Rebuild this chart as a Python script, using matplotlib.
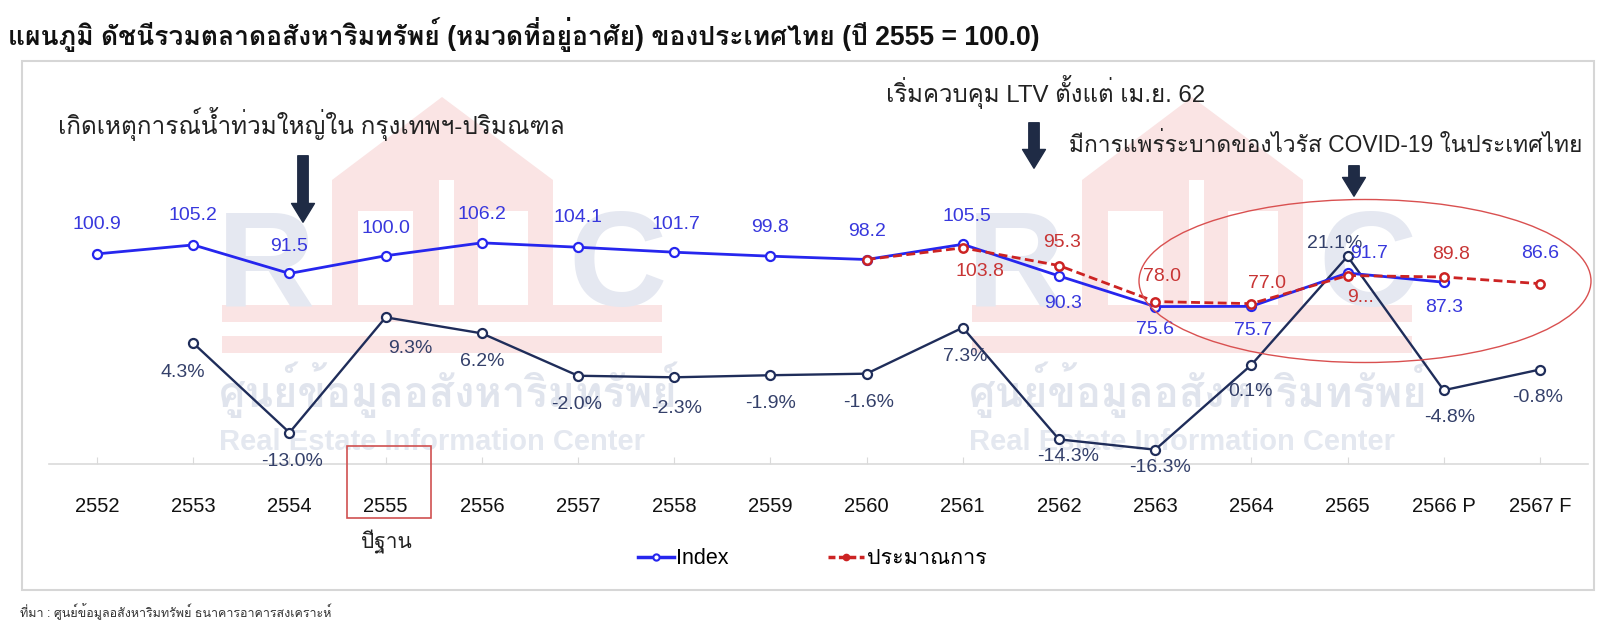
import matplotlib
matplotlib.use('Agg')
import matplotlib.pyplot as plt
import numpy as np
from matplotlib import font_manager
from matplotlib.ft2font import FT2Font
from matplotlib.patches import Rectangle, Ellipse, Polygon, FancyArrowPatch
from matplotlib.lines import Line2D

# ---- data ----
years = ['2552', '2553', '2554', '2555', '2556', '2557', '2558', '2559',
         '2560', '2561', '2562', '2563', '2564', '2565', '2566 P', '2567 F']
index_vals = [100.9, 105.2, 91.5, 100.0, 106.2, 104.1, 101.7, 99.8,
              98.2, 105.5, 90.3, 75.6, 75.7, 91.7, 87.3]
est_years = years[8:]
est_vals = [98.2, 103.8, 95.3, 78.0, 77.0, 90.5, 89.8, 86.6]
growth_years = years[1:]
growth_vals = [4.3, -13.0, 9.3, 6.2, -2.0, -2.3, -1.9, -1.6, 7.3, -14.3,
               -16.3, 0.1, 21.1, -4.8, -0.8]

title = 'แผนภูมิ ดัชนีรวมตลาดอสังหาริมทรัพย์ (หมวดที่อยู่อาศัย) ของประเทศไทย (ปี 2555 = 100.0)'
notes = ['เกิดเหตุการณ์น้ำท่วมใหญ่ใน กรุงเทพฯ-ปริมณฑล',
         'เริ่มควบคุม LTV ตั้งแต่ เม.ย. 62',
         'มีการแพร่ระบาดของไวรัส COVID-19 ในประเทศไทย']
source = 'ที่มา : ศูนย์ข้อมูลอสังหาริมทรัพย์ ธนาคารอาคารสงเคราะห์'


# find an installed font that has Thai glyphs
def thai_family():
    for f in font_manager.fontManager.ttflist:
        try:
            if 0x0E01 in FT2Font(f.fname).get_charmap():
                return f.name
        except Exception:
            continue
    return 'DejaVu Sans'


FAM = ['Liberation Sans', thai_family(), 'DejaVu Sans']
plt.rcParams['font.family'] = FAM

BLUE = '#2626ee'
BLUE_TXT = '#3838dd'
NAVY = '#1f2d5a'
NAVY_TXT = '#34406a'
RED = '#cc2323'
RED_TXT = '#c83535'

W, H = 1600, 639
fig = plt.figure(figsize=(W / 100, H / 100), dpi=100)


def fx(x):
    return x / W


def fy(y):
    return 1 - y / H


def pt(v):
    return v * 0.72


# ---- frame and watermark ----
fig.add_artist(Rectangle((fx(22), fy(590)), fx(1572), 529 / H, transform=fig.transFigure,
                         fill=False, ec='#d6d6d6', lw=1.5, zorder=-2))

GRAYB = '#e5e8f1'
PINK = '#fae4e4'


def draw_logo(dx):
    fig.text(fx(217 + dx), fy(306), 'R', fontsize=98, fontweight='bold', color=GRAYB,
             ha='left', va='baseline', zorder=-1)
    fig.add_artist(Polygon([(fx(332 + dx), fy(180)), (fx(442 + dx), fy(97)), (fx(553 + dx), fy(180))],
                           closed=True, transform=fig.transFigure, fc=PINK, ec='none', zorder=-1))
    fig.add_artist(Rectangle((fx(332 + dx), fy(306)), fx(107), 126 / H, transform=fig.transFigure,
                             fc=PINK, ec='none', zorder=-1))
    fig.add_artist(Rectangle((fx(358 + dx), fy(306)), fx(55), 95 / H, transform=fig.transFigure,
                             fc='white', ec='none', zorder=-1))
    fig.add_artist(Rectangle((fx(454 + dx), fy(306)), fx(99), 126 / H, transform=fig.transFigure,
                             fc=PINK, ec='none', zorder=-1))
    fig.add_artist(Rectangle((fx(478 + dx), fy(306)), fx(50), 95 / H, transform=fig.transFigure,
                             fc='white', ec='none', zorder=-1))
    fig.text(fx(568 + dx), fy(306), 'C', fontsize=98, fontweight='bold', color=GRAYB,
             ha='left', va='baseline', zorder=-1)
    for yb in (305, 336):
        fig.add_artist(Rectangle((fx(222 + dx), fy(yb + 17)), fx(440), 17 / H, transform=fig.transFigure,
                                 fc=PINK, ec='none', zorder=-1))
    fig.text(fx(219 + dx), fy(390), 'ศูนย์ข้อมูลอสังหาริมทรัพย์', fontsize=30, fontweight='bold',
             color='#e0e4ed', ha='left', va='center', zorder=-1)
    fig.text(fx(219 + dx), fy(442), 'Real Estate Information Center', fontsize=21, fontweight='bold',
             color='#e4e8f0', ha='left', va='center', zorder=-1)


draw_logo(0)
draw_logo(750)

# ---- axes ----
ax = fig.add_axes([fx(49), fy(464), fx(1539), 389 / H])
ax.patch.set_visible(False)
ax2 = ax.twinx()
ax2.patch.set_visible(False)

x = np.arange(len(years))
gx = x[1:]
ex = x[8:]
ix = x[:len(index_vals)]

ax.set_xlim(-0.5, len(years) - 0.5)
ax.set_ylim(-19.07, 56.17)
ax2.set_ylim(0, 186.8)

ax.plot(gx, growth_vals, color=NAVY, lw=1.7, marker='o', ms=6.5, mfc='white', mec=NAVY, mew=1.6, zorder=3)
ax2.plot(ix, index_vals, color=BLUE, lw=2.0, marker='o', ms=6.5, mfc='white', mec=BLUE, mew=1.6, zorder=3)
ax2.plot(ex, est_vals, color=RED, lw=2.0, ls=(0, (3.2, 1.6)), marker='o', ms=6, mfc='white', mec=RED,
         mew=1.8, zorder=4)

for s in ['top', 'left', 'right']:
    ax.spines[s].set_visible(False)
    ax2.spines[s].set_visible(False)
ax2.spines['bottom'].set_visible(False)
ax.spines['bottom'].set_color('#dadada')
ax.spines['bottom'].set_linewidth(1.2)
ax.set_yticks([])
ax2.set_yticks([])
ax.set_xticks(x)
ax.set_xticklabels(years)
ax.tick_params(axis='x', direction='in', length=5, color='#dadada', pad=23.5, labelsize=14.5,
               labelcolor='#111111')

# ---- data labels (offsets in pixels) ----
index_off = [(0, 29), (0, 29), (0, 27), (0, 27), (0, 28), (0, 30), (2, 28), (0, 29), (0, 28), (4, 28),
             (4, -28), (0, -23), (2, -24), (22, 20), (0, -25)]
for xi, v, (dx, dy) in zip(ix, index_vals, index_off):
    ax2.annotate(f'{v:.1f}', (xi, v), xytext=(pt(dx), pt(dy)), textcoords='offset points',
                 ha='center', va='center', fontsize=14, color=BLUE_TXT, zorder=6)

est_labels = [None, '103.8', '95.3', '78.0', '77.0', '9...', '89.8', '86.6']
est_off = [None, (17, -24), (3, 23), (7, 25), (16, 20), (13, -22), (7, 22), (0, 30)]
for k, (xi, v) in enumerate(zip(ex, est_vals)):
    if est_labels[k] is None:
        continue
    dx, dy = est_off[k]
    col = BLUE_TXT if k == len(est_vals) - 1 else RED_TXT
    ax2.annotate(est_labels[k], (xi, v), xytext=(pt(dx), pt(dy)), textcoords='offset points',
                 ha='center', va='center', fontsize=14, color=col, zorder=6)

growth_off = [(-10, -29), (3, -29), (25, -31), (0, -28), (-1, -29), (2, -31), (0, -28), (2, -29),
              (2, -29), (9, -17), (5, -18), (-1, -27), (-13, 13), (6, -27), (-2, -28)]
for xi, v, (dx, dy) in zip(gx, growth_vals, growth_off):
    ax.annotate(f'{v:.1f}%', (xi, v), xytext=(pt(dx), pt(dy)), textcoords='offset points',
                ha='center', va='center', fontsize=14, color=NAVY_TXT, zorder=6)

# ---- notes and arrows ----
fig.text(fx(8), fy(34), title, fontsize=19.1, fontweight='bold', ha='left', va='center', color='#111111')
fig.text(fx(58), fy(124), notes[0], fontsize=17.5, ha='left', va='center', color='#222222')
fig.text(fx(886), fy(92), notes[1], fontsize=17.3, ha='left', va='center', color='#222222')
fig.text(fx(1069), fy(145), notes[2], fontsize=16.4, ha='left', va='center', color='#222222')
for xa, y0, y1 in [(303, 153, 225), (1034, 120, 171), (1354, 163, 199)]:
    fig.add_artist(FancyArrowPatch((fx(xa), fy(y0)), (fx(xa), fy(y1)), transform=fig.transFigure,
                                   arrowstyle='simple,head_width=1.1,head_length=0.9,tail_width=0.5',
                                   mutation_scale=15, color='#1f2b45', zorder=7))

fig.add_artist(Ellipse((fx(1365), fy(281)), fx(452), 163 / H, transform=fig.transFigure,
                       fill=False, ec='#d95050', lw=1.0, zorder=7))
fig.add_artist(Rectangle((fx(347), fy(518)), fx(84), 72 / H, transform=fig.transFigure,
                         fill=False, ec='#d05050', lw=1.2, zorder=7))
fig.text(fx(386), fy(542), 'ปีฐาน', fontsize=15, ha='center', va='center', color='#222222')

# ---- legend ----
handles = [Line2D([], [], color=BLUE, lw=2.5, marker='o', ms=4.5, mfc='white', mec=BLUE, mew=1.5),
           Line2D([], [], color=RED, lw=2.5, ls=(0, (2, 1)), marker='o', ms=4.5, mfc=RED, mec=RED)]
fig.legend(handles, ['Index', 'ประมาณการ'], loc='center', bbox_to_anchor=(fx(812), fy(559)), ncol=2,
           frameon=False, fontsize=15.5, handlelength=1.7, handletextpad=0.1, columnspacing=4.6)

fig.text(fx(20), fy(612), source, fontsize=9, ha='left', va='center', color='#333333')

fig.savefig('out.png', dpi=100)
